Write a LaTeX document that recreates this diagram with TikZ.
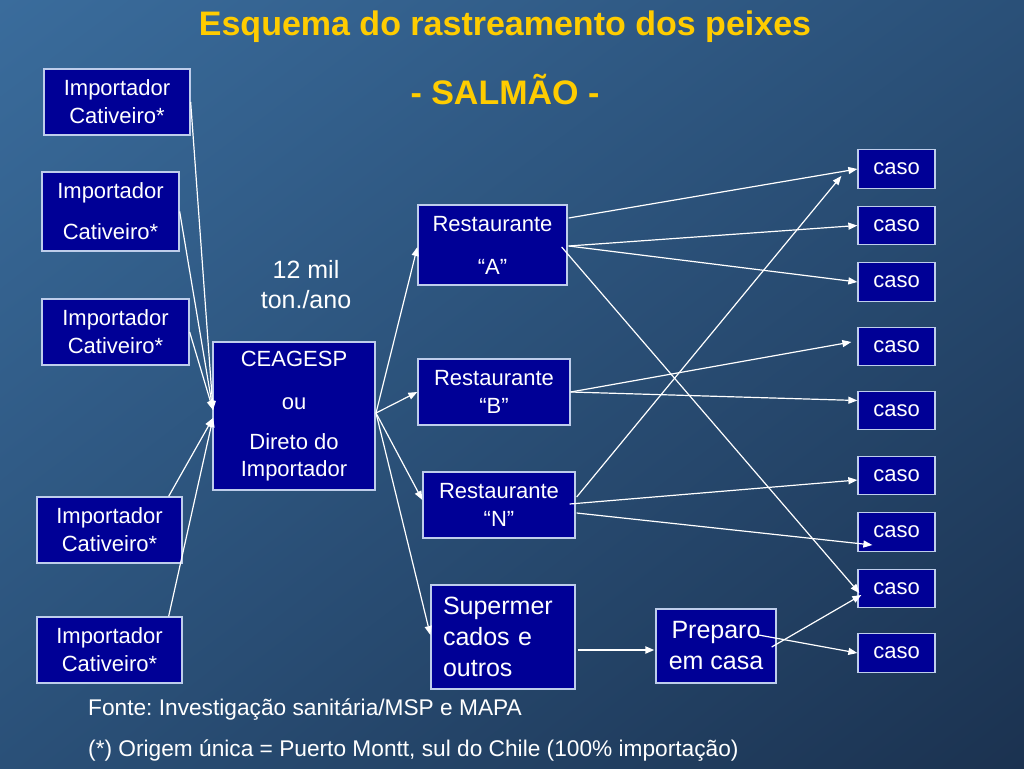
\documentclass[tikz,border=0pt]{standalone}
\usepackage{fontspec}
\setmainfont{Liberation Sans}
\usetikzlibrary{arrows.meta,calc,shadings}
\definecolor{bgA}{RGB}{58,108,156}
\definecolor{bgB}{RGB}{42,80,120}
\definecolor{bgC}{RGB}{27,50,80}
\definecolor{boxfill}{RGB}{0,0,150}
\definecolor{boxline}{RGB}{190,205,235}
\definecolor{titley}{RGB}{255,204,0}
\frenchspacing
\begin{document}
\begin{tikzpicture}[x=1pt,y=-1pt,
  box/.style={draw=boxline, line width=1.3pt, fill=boxfill, text=white, align=center,
    inner sep=0pt, font=\fontsize{22}{28}\selectfont},
  bigbox/.style={box, font=\fontsize{25}{31}\selectfont},
  casobox/.style={box, minimum width=77pt, minimum height=38.5pt},
  arr/.style={draw=white, line width=1.2pt, -{Triangle[length=9pt,width=7pt]}},
  title/.style={text=titley, font=\fontsize{34}{40}\selectfont\bfseries},
  note/.style={text=white, font=\fontsize{22.7}{26}\selectfont, anchor=west, inner sep=0pt}]
\useasboundingbox (0,0) rectangle (1024,768);
\shade[upper left=bgA, upper right=bgB, lower left=bgB, lower right=bgC] (0,0) rectangle (1024,768);

% titles
\node[title] (t1) at (505,27) {Esquema do rastreamento dos peixes};
\node[title] (t2) at (505,90) {- SALMÃO -};

% importers
\node[box, minimum width=146pt, minimum height=66pt] (imp1) at (117,102) {Importador\\Cativeiro*};
\node[box, minimum width=137pt, minimum height=79pt] (imp2) at (110.5,211.5) {Importador\\[13pt]Cativeiro*};
\node[box, minimum width=147pt, minimum height=66pt] (imp3) at (115.5,332) {Importador\\Cativeiro*};
\node[box, minimum width=145pt, minimum height=66pt] (imp4) at (109.5,530) {Importador\\Cativeiro*};
\node[box, minimum width=145pt, minimum height=66pt] (imp5) at (109.5,650) {Importador\\Cativeiro*};

% central
\node[box, minimum width=162pt, minimum height=148pt, font=\fontsize{22}{27}\selectfont] (ce) at (294,416)
  {CEAGESP\\[16pt]ou\\[13pt]Direto do\\Importador};
\node[text=white, align=center, font=\fontsize{25}{30}\selectfont, inner sep=0pt] (ton) at (306,285) {12 mil\\ton./ano};

% restaurants
\node[box, minimum width=149pt, minimum height=80pt] (ra) at (492.5,245) {Restaurante\\[15pt]“A”};
\node[box, minimum width=152pt, minimum height=66pt] (rb) at (494,392) {Restaurante\\“B”};
\node[box, minimum width=152pt, minimum height=66pt] (rn) at (499,505) {Restaurante\\“N”};
\node[bigbox, minimum height=104pt, text width=120pt, align=left, inner xsep=12pt] (sm) at (503,637)
  {Supermer\\cados e\\outros};
\node[bigbox, minimum width=120pt, minimum height=74pt] (prep) at (716,646) {Preparo\\em casa};

% casos
\node[casobox] (c1) at (896.5,169) {caso};
\node[casobox] (c2) at (896.5,225.5) {caso};
\node[casobox] (c3) at (896.5,282) {caso};
\node[casobox] (c4) at (896.5,346.5) {caso};
\node[casobox] (c5) at (896.5,410.5) {caso};
\node[casobox] (c6) at (896.5,475.5) {caso};
\node[casobox] (c7) at (896.5,532) {caso};
\node[casobox] (c8) at (896.5,588.5) {caso};
\node[casobox] (c9) at (896.5,653) {caso};

% notes
\node[note] (n1) at (88,710) {Fonte: Investigação sanitária/MSP e MAPA};
\node[note] (n2) at (88,751) {(*) Origem única = Puerto Montt, sul do Chile (100\% importação)};

% connection points
\coordinate (cin1) at (213,410);
\coordinate (cin2) at (213,418);
\coordinate (cout) at (376,413);

% importers -> centre
\draw[arr] (imp1.east) -- (cin1);
\draw[arr] (imp2.east) -- (cin1);
\draw[arr] (imp3.east) -- (cin1);
\draw[arr] ($(imp4.north east)+(-14,0)$) -- (cin2);
\draw[arr] ($(imp5.north east)+(-14,0)$) -- (cin2);

% centre -> outlets
\draw[arr] (cout) -- ($(ra.west)+(0,2)$);
\draw[arr] (cout) -- (rb.west);
\draw[arr] (cout) -- ($(rn.west)+(0,-5)$);
\draw[arr] (cout) -- ($(sm.west)+(0,-2)$);

% restaurant A
\draw[arr] ($(ra.east)+(1,-27)$) -- (c1.west);
\draw[arr] ($(ra.east)+(1,1)$) -- (c2.west);
\draw[arr] ($(ra.east)+(1,1)$) -- (c3.west);
\draw[arr] ($(ra.east)+(-6,2)$) -- ($(c8.west)+(2,4.5)$);

% restaurant B
\draw[arr] (rb.east) -- ($(c4.west)+(-6,-4.5)$);
\draw[arr] (rb.east) -- ($(c5.west)+(0,-10)$);

% restaurant N
\draw[arr] ($(rn.east)+(1,-8)$) -- ($(c1.west)+(-16,7)$);
\draw[arr] ($(rn.east)+(-6,-1)$) -- ($(c6.west)+(0,4.5)$);
\draw[arr] ($(rn.east)+(1,8)$) -- ($(c7.west)+(15,13)$);

% supermarkets -> home preparation
\draw[arr, line width=2pt] ($(sm.east)+(2,13)$) -- ($(prep.west)+(-1,4)$);

% home preparation -> casos
\draw[arr] ($(prep.east)+(-5,1)$) -- ($(c8.west)+(4,6.5)$);
\draw[arr] ($(prep.east)+(-18,-11)$) -- (c9.west);
\end{tikzpicture}
\end{document}
